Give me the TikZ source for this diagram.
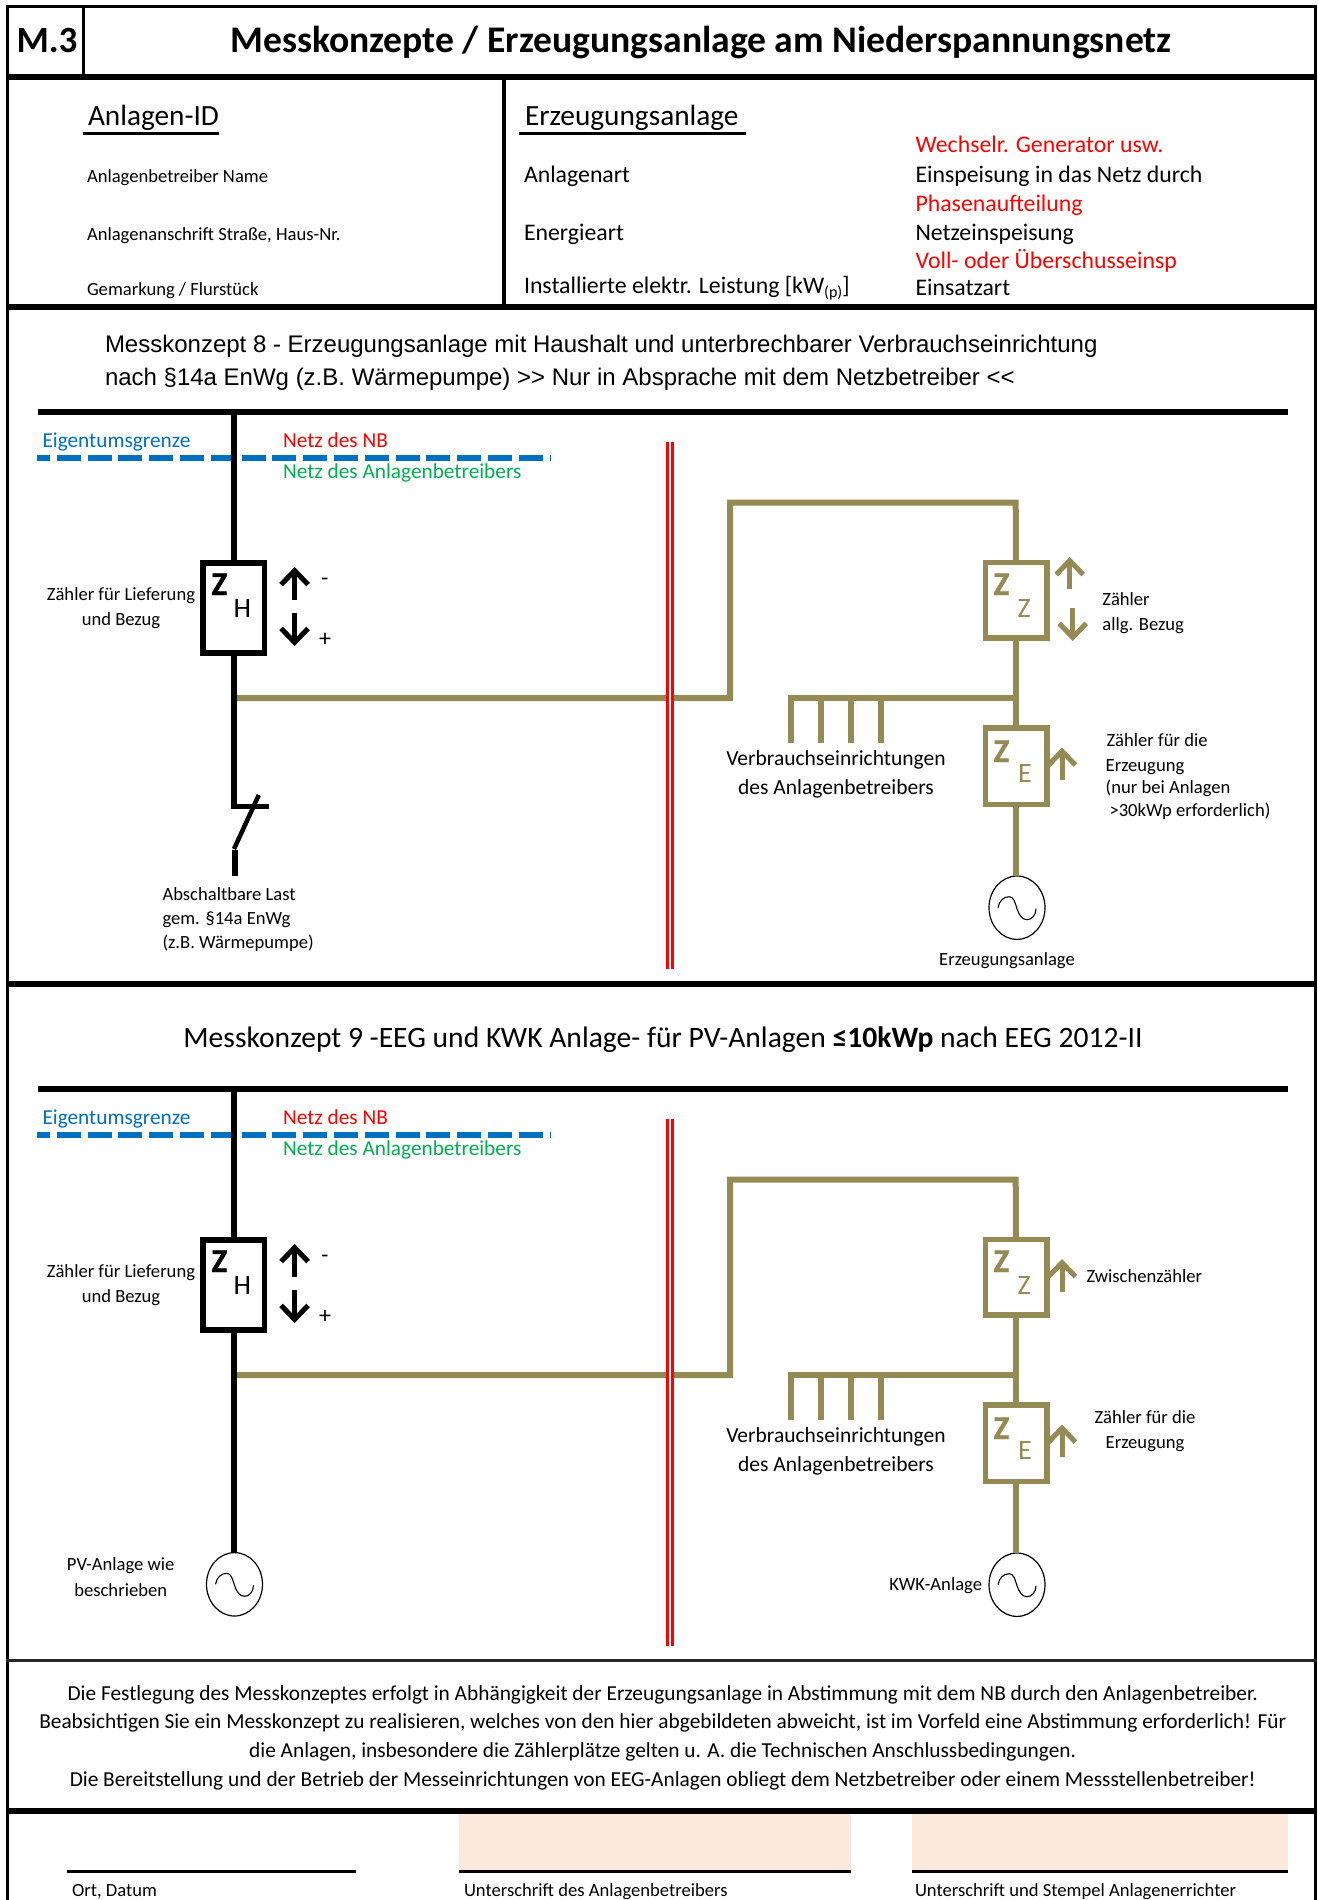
\documentclass[tikz,border=0pt]{standalone}
\usepackage{fontspec}
\setmainfont{Carlito}
\newfontfamily\arialf{Liberation Sans}
\newfontfamily\zfont[BoldFont={Carlito Bold},BoldFeatures={FakeBold=1.2}]{Carlito}
\usetikzlibrary{arrows.meta,shapes.geometric}
\definecolor{olive}{HTML}{948A54}
\definecolor{mblue}{HTML}{0070C0}
\definecolor{mgreen}{HTML}{00B050}
\definecolor{mred}{HTML}{FF0000}
\definecolor{peach}{HTML}{FBE9DB}
\newcommand{\fsz}[1]{\fontsize{#1pt}{#1pt}\selectfont}
\tikzset{
  x=1pt,y=-1pt,
  lab/.style={anchor=base west,inner sep=0pt,outer sep=0pt,font=\fsz{18.6}},
  clab/.style={anchor=base,inner sep=0pt,outer sep=0pt,font=\fsz{18.6}},
  big/.style={lab,font=\fsz{23.8}},
  mid/.style={lab,font=\fsz{21.3}},
  meter/.style={draw,line width=5.5pt,inner sep=0pt,outer sep=0pt,minimum width=61.5pt,minimum height=90pt},
  meterolive/.style={meter,olive,minimum height=75.5pt},
  frameline/.style={line width=3pt,black},
  heavy/.style={line width=6pt,black},
  wire/.style={line width=6pt,line join=miter},
  up/.style={line width=5pt,-{Straight Barb[length=14pt,width=27pt,line width=5pt]}},
  gen/.style={draw,ellipse,line width=1.2pt,black,inner sep=0pt,outer sep=0pt,minimum width=56pt,minimum height=63.4pt},
  zbig/.style={lab,font=\zfont\bfseries\fsz{33}},
  zsub/.style={lab,font=\fsz{28}},
}
% #1 name, #2 x, #3 y
\newcommand{\genr}[3]{%
  \node[gen] (#1) at (#2,#3) {};
  \begin{scope}[shift={(#1.center)}]
    \draw[line width=1.1pt,black] (-19,0) .. controls (-18,-7) and (-13,-11) .. (-8,-11)
      .. controls (-3,-11) and (-2,-5) .. (0,1)
      .. controls (2,7) and (5,12) .. (10,12)
      .. controls (15,12) and (19,7) .. (19,1);
  \end{scope}}
% #1 prefix: common parts of a scheme
\newcommand{\scheme}[1]{%
  \draw[heavy] (38,411.7) -- (1288,411.7);
  \node[mid,text=mblue] (#1eig) at (42.5,447) {Eigentumsgrenze};
  \node[mid,text=mred] (#1nb) at (283,447) {Netz des NB};
  \node[mid,text=mgreen] (#1nab) at (283,478) {Netz des Anlagenbetreibers};
  \draw[line width=5.5pt,mblue,dash pattern=on 24pt off 6.8pt,dash phase=11pt] (37,458) -- (550,458);
  % H meter
  \node[meter] (#1mh) at (233.5,608) {};
  \coordinate (#1top) at (234,411.7);
  \draw[line width=6pt] (#1top) -- (#1top|-#1mh.north);
  \node[zbig] (#1zh) at (211.5,595) {Z};
  \node[zsub] (#1h) at (233.5,617) {H};
  \coordinate (#1a) at (294.6,600); \coordinate (#1b) at (294.6,567);
  \coordinate (#1c) at (294.6,613); \coordinate (#1d) at (294.6,646);
  \draw[up] (#1a) -- (#1b);
  \draw[up] (#1c) -- (#1d);
  \node[anchor=base,inner sep=0pt,font=\fsz{23}] (#1mi) at (325,585) {-};
  \node[anchor=center,inner sep=0pt,font=\fsz{24}] (#1pl) at (325,640) {+};
  \node[clab] (#1zl1) at (121,600) {Zähler für Lieferung};
  \node[clab] (#1zl2) at (121,625) {und Bezug};
  % olive network
  \coordinate (#1bus) at (237,698);
  \coordinate (#1c1) at (730,698);
  \coordinate (#1c2) at (730,502.7);
  \coordinate (#1c3) at (1015.7,502.7);
  \node[meterolive] (#1mz) at (1016,600.3) {};
  \node[meterolive,minimum height=76.5pt] (#1me) at (1016,766) {};
  \draw[wire,olive] (#1bus) -- (#1c1) -- (#1c2) -- (#1c3) -- (#1mz.north);
  \draw[wire,olive] (#1mz.south) -- (#1me.north);
  \coordinate (#1j) at (1015.7,698);
  \coordinate (#1v0) at (790.7,698);
  \draw[wire,olive,line cap=rect] (#1j) -- (#1v0);
  \draw[wire,olive] (#1v0) -- ++(0,45);
  \draw[wire,olive] (821,698) -- (821,743);
  \draw[wire,olive] (851,698) -- (851,743);
  \draw[wire,olive] (881,698) -- (881,743);
  \node[zbig,text=olive] (#1zz) at (993.5,595) {Z};
  \node[zsub,text=olive] (#1z) at (1017.5,617) {Z};
  \node[zbig,text=olive] (#1ze) at (993.5,762) {Z};
  \node[zsub,text=olive] (#1e) at (1018,782) {E};
  \node[clab,font=\fsz{21.5}] (#1v1) at (836,765) {Verbrauchseinrichtungen};
  \node[clab,font=\fsz{21.5}] (#1v2) at (836,794) {des Anlagenbetreibers};
  \coordinate (#1ea) at (1062,780); \coordinate (#1eb) at (1062,747.5);
  \draw[up,olive] (#1ea) -- (#1eb);
  % generator right
  \genr{#1gr}{1017}{907.7}
  \draw[wire,olive] (#1me.south) -- (#1gr.north-|#1me.south);
  % red double line
  \coordinate (#1r1a) at (667.7,441.7); \coordinate (#1r1b) at (667.7,968.7);
  \coordinate (#1r2a) at (672.5,441.7); \coordinate (#1r2b) at (672.5,968.7);
  \coordinate (#1r0a) at (670.1,441.7); \coordinate (#1r0b) at (670.1,968.7);
  \draw[line width=1.8pt,white] (#1r0a) -- (#1r0b);
  \draw[line width=3.2pt,mred] (#1r1a) -- (#1r1b);
  \draw[line width=3.2pt,mred] (#1r2a) -- (#1r2b);
}
\begin{document}
\begin{tikzpicture}
\useasboundingbox (0,0) rectangle (1317,1900);
\fill[white] (0,0) rectangle (1317,1900);
% frame
\coordinate (fl1) at (7.5,5); \coordinate (fl2) at (7.5,1900);
\coordinate (fr1) at (1315.5,5); \coordinate (fr2) at (1315.5,1900);
\draw[frameline] (fl1) -- (fl2);
\draw[frameline] (fr1) -- (fr2);
\draw[frameline] (6,7) -- (1317,7);
\draw[heavy] (6,77) -- (1317,77);
\draw[frameline] (83,7) -- (83,77);
\draw[frameline,line width=3.5pt] (504,77) -- (504,307);
\draw[heavy] (6,307) -- (1317,307);
\draw[heavy] (6,984) -- (1317,984);
\draw[line width=3.5pt,black!85] (6,1660.5) -- (1317,1660.5);
\draw[heavy] (6,1811) -- (1317,1811);
% header
\node[lab,font=\bfseries\fsz{37}] (m3) at (16.5,53) {M.3};
\node[lab,font=\bfseries\fsz{37.6}] (title) at (230.5,53) {Messkonzepte / Erzeugungsanlage am Niederspannungsnetz};
% info left
\node[lab,font=\fsz{29.3}] (aid) at (88,125) {Anlagen-ID};
\draw[frameline] (83,134) -- (219,134);
\node[lab] (i1) at (87,182) {Anlagenbetreiber Name};
\node[lab] (i2) at (87,240) {Anlagenanschrift Straße, Haus-Nr.};
\node[lab] (i3) at (87,295) {Gemarkung / Flurstück};
% info right
\node[lab,font=\fsz{29.3}] (ea) at (525,125) {Erzeugungsanlage};
\draw[frameline] (519,134) -- (746,134);
\node[big] (a1) at (524,182) {Anlagenart};
\node[big] (a2) at (524,240) {Energieart};
\node[big] (a3) at (524,293) {Installierte elektr. Leistung [kW\raisebox{-4pt}{\fsz{16}(p)}]};
\node[big,text=mred] (b0) at (915.5,153) {Wechselr. Generator usw.};
\node[big] (b1) at (915.5,182) {Einspeisung in das Netz durch};
\node[big,text=mred] (b2) at (915.5,211) {Phasenaufteilung};
\node[big] (b3) at (915.5,240) {Netzeinspeisung};
\node[big,text=mred] (b4) at (915.5,268) {Voll- oder Überschusseinsp};
\node[big] (b5) at (915.5,295) {Einsatzart};
% section 1
\node[lab,font=\arialf\fsz{24}] (s1a) at (105,352) {Messkonzept 8 - Erzeugungsanlage mit Haushalt und unterbrechbarer Verbrauchseinrichtung};
\node[lab,font=\arialf\fsz{24}] (s1b) at (105,385) {nach §14a EnWg (z.B. Wärmepumpe) >> Nur in Absprache mit dem Netzbetreiber <<};
\scheme{p}
\coordinate (psw) at (234,809);
\draw[line width=6pt] (pmh.south-|ptop) -- (psw);
\coordinate (psa) at (231,806); \coordinate (psb) at (269,806);
\draw[line width=5pt] (psa) -- (psb);
\coordinate (psc) at (258.8,795); \coordinate (psd) at (234,849);
\draw[line width=4.5pt] (psc) -- (psd);
\coordinate (pse) at (235,850); \coordinate (psf) at (235,875.7);
\draw[line width=5.5pt] (pse) -- (psf);
\node[lab] (pl1) at (162.5,900) {Abschaltbare Last};
\node[lab] (pl2) at (162.5,924) {gem. §14a EnWg};
\node[lab] (pl3) at (162.5,948) {(z.B. Wärmepumpe)};
\coordinate (paa) at (1069.7,589); \coordinate (pab) at (1069.7,557);
\coordinate (pac) at (1072.7,608); \coordinate (pad) at (1072.7,641);
\draw[up,olive] (paa) -- (pab);
\draw[up,olive] (pac) -- (pad);
\node[lab] (pz1) at (1102.4,605) {Zähler};
\node[lab] (pz2) at (1102.4,630.7) {allg. Bezug};
\node[lab] (pe1) at (1106.6,746) {Zähler für die};
\node[lab] (pe2) at (1105.7,771.7) {Erzeugung};
\node[lab] (pe3) at (1105.7,793) {(nur bei Anlagen};
\node[lab] (pe4) at (1109.5,816.7) {>30kWp erforderlich)};
\node[clab] (pgl) at (1007,965) {Erzeugungsanlage};
% section 2
\node[anchor=base,inner sep=0pt,font=\fsz{29.6}] (s2) at (663,1047) {Messkonzept 9 -EEG und KWK Anlage- für PV-Anlagen \textbf{≤10kWp} nach EEG 2012-II};
\begin{scope}[shift={(0,677)}]
\scheme{q}
\genr{qgl}{234.5}{907.3}
\draw[line width=6pt] (qmh.south-|qtop) -- (qgl.north-|qtop);
\node[clab] (qpv1) at (120.7,893.7) {PV-Anlage wie};
\node[clab] (qpv2) at (120.7,919) {beschrieben};
\coordinate (qaa) at (1062,615); \coordinate (qab) at (1062,582);
\draw[up,olive] (qaa) -- (qab);
\node[lab] (qz1) at (1086.5,605) {Zwischenzähler};
\node[clab] (qe1) at (1145,746) {Zähler für die};
\node[clab] (qe2) at (1145,771.7) {Erzeugung};
\node[anchor=base east,inner sep=0pt,outer sep=0pt,font=\fsz{18.6}] (qgl2) at (982,913) {KWK-Anlage};
\end{scope}
% notes
\node[anchor=base,inner sep=0pt,font=\fsz{21.35}] (n1) at (662.7,1700) {Die Festlegung des Messkonzeptes erfolgt in Abhängigkeit der Erzeugungsanlage in Abstimmung mit dem NB durch den Anlagenbetreiber.};
\node[anchor=base,inner sep=0pt,font=\fsz{21.35}] (n2) at (662.7,1728.5) {Beabsichtigen Sie ein Messkonzept zu realisieren, welches von den hier abgebildeten abweicht, ist im Vorfeld eine Abstimmung erforderlich! Für};
\node[anchor=base,inner sep=0pt,font=\fsz{21.35}] (n3) at (662.7,1757) {die Anlagen, insbesondere die Zählerplätze gelten u. A. die Technischen Anschlussbedingungen.};
\node[anchor=base,inner sep=0pt,font=\fsz{21.35}] (n4) at (662.7,1786.5) {Die Bereitstellung und der Betrieb der Messeinrichtungen von EEG-Anlagen obliegt dem Netzbetreiber oder einem Messstellenbetreiber!};
% signatures
\fill[peach] (459,1814) rectangle (851,1870);
\fill[peach] (912,1814) rectangle (1288,1870);
\draw[frameline] (67,1871) -- (355.5,1871);
\draw[frameline] (459,1871) -- (851,1871);
\draw[frameline] (912,1871) -- (1288,1871);
\node[lab] (u1) at (72,1896) {Ort, Datum};
\node[lab] (u2) at (464,1896) {Unterschrift des Anlagenbetreibers};
\node[lab] (u3) at (915,1896) {Unterschrift und Stempel Anlagenerrichter};
\end{tikzpicture}
\end{document}
